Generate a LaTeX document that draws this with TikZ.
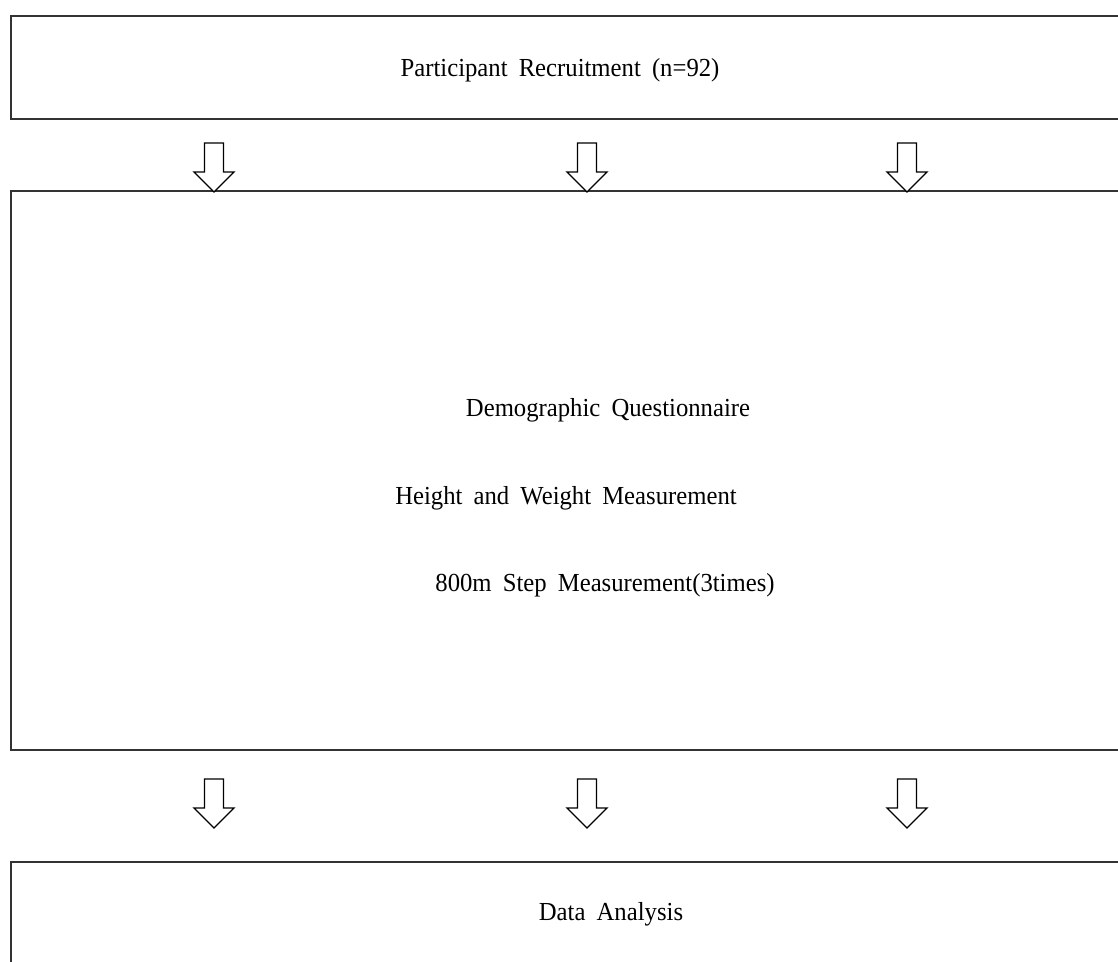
\documentclass[tikz,border=0pt]{standalone}
\usepackage{fontspec}
\setmainfont[FakeStretch=0.95,WordSpace=1.8]{Liberation Serif}
\begin{document}
\begin{tikzpicture}[x=1pt,y=-1pt,
  box/.style={draw=black!80,line width=1.55pt,rectangle,inner sep=0pt,anchor=north west},
  lbl/.style={font=\fontsize{26}{26}\selectfont,inner sep=0pt,anchor=base},
  arrowline/.style={draw=black,line width=1.3pt,fill=white,line join=miter},
  blockarrow/.pic={\path[arrowline] (-9.5,0) -- (9.5,0) -- (9.5,29) -- (20,29) -- (0,49) -- (-20,29) -- (-9.5,29) -- cycle;}
]
\useasboundingbox (0,0) rectangle (1118,961);
\clip (0,0) rectangle (1118,961);
\node[box,minimum width=1130pt,minimum height=103pt] (recruit) at (10,15) {};
\node[box,minimum width=1130pt,minimum height=559pt] (measure) at (10,190) {};
\node[box,minimum width=1130pt,minimum height=120pt] (analysis) at (10,861) {};
\node[lbl] (t1) at (560,76) {Participant Recruitment (n=92)};
\node[lbl] (t2) at (608,416) {Demographic Questionnaire};
\node[lbl] (t3) at (566,504) {Height and Weight Measurement};
\node[lbl] (t4) at (605,591) {800m Step Measurement(3times)};
\node[lbl] (t5) at (611,920) {Data Analysis};
\pic (a1) at (214,143) {blockarrow};
\pic (a2) at (587,143) {blockarrow};
\pic (a3) at (907,143) {blockarrow};
\pic (b1) at (214,779) {blockarrow};
\pic (b2) at (587,779) {blockarrow};
\pic (b3) at (907,779) {blockarrow};
\end{tikzpicture}
\end{document}
